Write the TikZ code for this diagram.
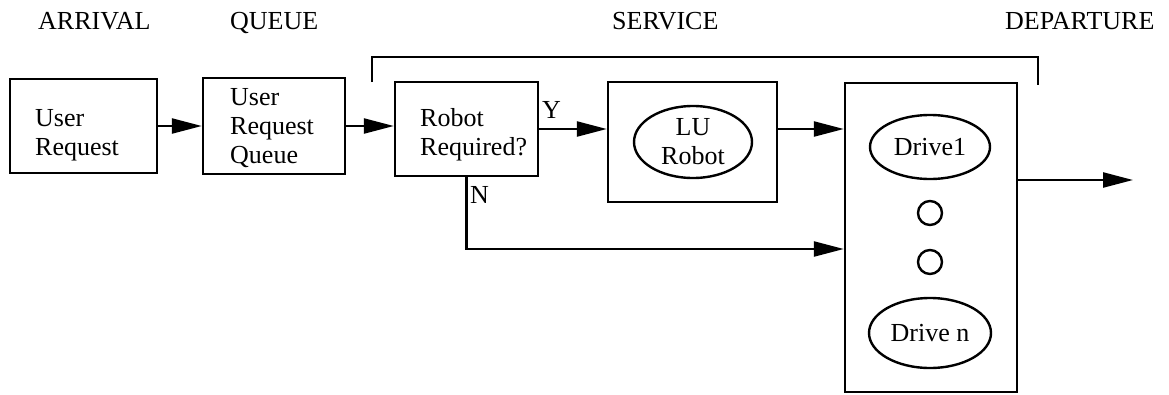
\documentclass[tikz,border=0pt]{standalone}
\usepackage{fontspec}
\setmainfont{Liberation Serif}
\usetikzlibrary{arrows.meta,shapes.geometric,calc}
\begin{document}
\begin{tikzpicture}[x=1pt,y=-1pt,
  every node/.style={font=\fontsize{26}{29}\selectfont},
  box/.style={draw, line width=2.4pt, rectangle, inner sep=0pt},
  oval/.style={draw, line width=2.4pt, ellipse, inner sep=0pt, align=center},
  dot/.style={draw, line width=2.4pt, circle, inner sep=0pt, minimum size=24pt},
  txt/.style={anchor=base west, inner sep=0pt, align=left},
  conn/.style={line width=2.4pt},
  arr/.style={conn, -{Triangle[length=30pt,width=15pt]}},
]
\useasboundingbox (0,0) rectangle (1169,394);

% headers
\node[txt] (hArr) at (38,29) {ARRIVAL};
\node[txt] (hQue) at (230,29) {QUEUE};
\node[txt] (hSer) at (612,29) {SERVICE};
\node[txt] (hDep) at (1005,29) {DEPARTURE};

% service bracket
\draw[conn] (372,82) -- (372,57) -- (1038,57) -- (1038,85);

% boxes
\node[box, minimum width=147pt, minimum height=94pt] (ureq) at (83.5,126) {};
\node[box, minimum width=142pt, minimum height=96pt] (queue) at (274,126) {};
\node[box, minimum width=143pt, minimum height=94pt] (robot) at (466.5,129) {};
\node[box, minimum width=169pt, minimum height=120pt] (lubox) at (692.5,142) {};
\node[box, minimum width=172pt, minimum height=309pt] (drives) at (931,237.5) {};

% box texts (base anchor = baseline of last line)
\node[txt] (ureqT) at (35,155) {User\\Request};
\node[txt] (queueT) at (230,163) {User\\Request\\Queue};
\node[txt] (robotT) at (420,155) {Robot\\Required?};

% ellipses and circles
\node[oval, minimum width=118pt, minimum height=72pt] (lu) at (693,142) {LU\\Robot};
\node[oval, minimum width=120pt, minimum height=64pt] (d1) at (930,147) {Drive1};
\node[dot] (c1) at (930,213) {};
\node[dot] (c2) at (930,262) {};
\node[oval, minimum width=122pt, minimum height=70pt] (dn) at (930,333) {Drive n};

% labels
\node[txt] (yl) at (542,118) {Y};
\node[txt] (nl) at (470,203) {N};

% connectors
\coordinate (nin) at (drives.west |- 0,249);
\coordinate (yout) at (lubox.east |- robot.east);
\coordinate (out) at (1133,180);
\draw[arr] (ureq.east) -- (queue.west);
\draw[arr] (queue.east) -- (queue.east -| robot.west);
\draw[arr] (robot.east) -- (robot.east -| lubox.west);
\draw[arr] (yout) -- (yout -| drives.west);
\draw[arr] (robot.south) |- (nin);
\draw[arr] (drives.east |- out) -- (out);
\end{tikzpicture}
\end{document}
